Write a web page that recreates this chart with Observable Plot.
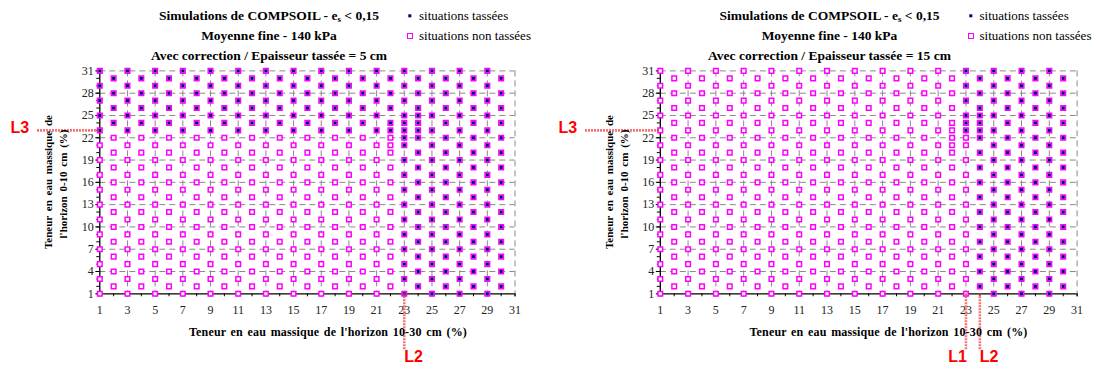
<!DOCTYPE html>
<html><head><meta charset="utf-8">
<script src="https://cdn.jsdelivr.net/npm/d3@7"></script>
<script src="https://cdn.jsdelivr.net/npm/@observablehq/plot@0.6"></script>
<style>
body{margin:0;background:#fff;}
#wrap{position:relative;width:1096px;height:374px;overflow:hidden;font-family:"Liberation Serif","Times New Roman",serif;color:#000;}
.panel{position:absolute;top:0;}
.t{position:absolute;white-space:nowrap;transform:translate(-50%,-50%);font-weight:bold;font-size:13.5px;}
.ax{position:absolute;white-space:nowrap;font-weight:bold;font-size:11px;}
.lg{position:absolute;white-space:nowrap;font-size:13px;transform:translateY(-50%);}
.mk{position:absolute;box-sizing:border-box;transform:translate(-50%,-50%);}
sub{font-size:9px;vertical-align:-2px;line-height:0;}
</style></head><body><div id="wrap"></div>
<script>
// ---- data ----
const xValues = [1,2,3,4,5,6,7,8,9,10,11,12,13,14,15,16,17,18,19,20,21,22,23,24,25,26,27,28,29,30];
const oddRows = [1,3,5,7,9,11,13,15,17,19,21,23,25,27,29,31];   // rows sampled for odd x
const evenRows = [2,4,6,8,10,12,14,16,18,20,22,24,26,28,30];    // rows sampled for even x
const extraPoints = [[22,21],[22,23],[23,22],[23,24],[24,23],[24,25]]; // refined points near the limits
// first x (10-30 cm) at which situations are "tassées", for y = 1 .. 31 (0-10 cm)
const firstTasseeX_5cm  = [23,23,23,23,23,23,23,23,23,23,23,23,23,23,23,23,23,23,23,23,23,23,1,1,1,1,1,1,1,1,1];
const firstTasseeX_15cm = [24,24,24,24,24,24,24,24,24,24,24,24,24,24,24,24,24,24,24,24,24,24,23,23,23,23,23,23,23,23,23];
const xTickLabels = [1,3,5,7,9,11,13,15,17,19,21,23,25,27,29,31];
const yTickLabels = [1,4,7,10,13,16,19,22,25,28,31];
const minorTicks = [1,2,3,4,5,6,7,8,9,10,11,12,13,14,15,16,17,18,19,20,21,22,23,24,25,26,27,28,29,30,31];
const titles5 = ["Simulations de COMPSOIL - e<sub>s</sub> &lt; 0,15", "Moyenne fine - 140 kPa", "Avec correction / Epaisseur tassée = 5 cm"];
const titles15 = ["Simulations de COMPSOIL - e<sub>s</sub> &lt; 0,15", "Moyenne fine - 140 kPa", "Avec correction / Epaisseur tassée = 15 cm"];
const legendLabels = ["situations tassées", "situations non tassées"];
const xTitle = "Teneur en eau massique de l'horizon 10-30 cm (%)";
const yTitle = ["Teneur en eau massique de", "l'horizon 0-10 cm (%)"];
const limits5  = {vertical: [{v: 23, label: "L2", anchor: "start"}], horizontal: [{v: 23, label: "L3"}]};
const limits15 = {vertical: [{v: 23, label: "L1", anchor: "end"}, {v: 24, label: "L2", anchor: "start"}], horizontal: [{v: 23, label: "L3"}]};

const W = 548, H = 374, MT = 70.4, MB = 80.7;
const MAG = "#ff00ff", NAVY = "#000080", RED = "#ff0000";

function buildPoints(firstX) {
  const pts = [];
  for (const x of xValues) for (const y of (x % 2 ? oddRows : evenRows)) pts.push({x, y});
  for (const [x, y] of extraPoints) pts.push({x, y});
  return pts.map(p => ({...p, tassee: p.x >= firstX[p.y - 1]}));
}

const wrap = document.getElementById("wrap");
function addDiv(cls, html, css) {
  const d = document.createElement("div");
  d.className = cls; d.innerHTML = html;
  Object.assign(d.style, css);
  wrap.appendChild(d);
  return d;
}

function panel(cfg) {
  const pts = buildPoints(cfg.firstX);
  const fw = W - cfg.ml - cfg.mr, fh = H - MT - MB;
  const lfont = {fill: RED, fontWeight: "bold", fontSize: 16, fontFamily: "'Liberation Sans', Arial, sans-serif"};
  const lrule = {stroke: "#f03c3c", strokeWidth: 2.6, strokeDasharray: "2,1", strokeOpacity: 0.7};
  const marks = [
    Plot.gridY(yTickLabels.slice(1), {stroke: "#8a8a8a", strokeOpacity: 1, strokeDasharray: "6,4"}),
    Plot.gridX(xTickLabels.slice(1), {stroke: "#8a8a8a", strokeOpacity: 1, strokeDasharray: "6,4"}),
    Plot.axisX(minorTicks, {tickSize: 3, tickFormat: () => "", label: null}),
    Plot.axisX(xTickLabels, {tickSize: 3, tickPadding: 9, label: null, fill: "#222", fontSize: 12}),
    Plot.axisY(minorTicks, {tickSize: 3, tickFormat: () => "", label: null}),
    Plot.axisY(yTickLabels, {tickSize: 4, tickPadding: 2, label: null, fill: "#222", fontSize: 12}),
    Plot.ruleX([1], {stroke: "#000", strokeWidth: 1.3}),
    Plot.ruleY([1], {stroke: "#000", strokeWidth: 1.3}),
    Plot.dot(pts, {x: "x", y: "y", symbol: "square", r: 2.6, fill: "white", stroke: MAG, strokeWidth: 1.5}),
    Plot.dot(pts.filter(d => d.tassee), {x: "x", y: "y", symbol: "square", r: 1.75, fill: NAVY}),
    Plot.ruleX(cfg.limits.vertical, {x: "v", ...lrule, insetTop: fh, insetBottom: -57}),
    Plot.ruleY(cfg.limits.horizontal, {y: "v", ...lrule, insetLeft: -(cfg.ml - 37), insetRight: fw}),
    Plot.text(cfg.limits.horizontal, {y: "v", text: "label", frameAnchor: "left", textAnchor: "start", dx: -(cfg.ml - 10), dy: -2, ...lfont})
  ];
  for (const anchor of ["start", "end"]) {
    const sel = cfg.limits.vertical.filter(d => d.anchor === anchor);
    if (sel.length) marks.push(Plot.text(sel, {x: "v", text: "label", frameAnchor: "bottom", textAnchor: anchor, dx: anchor === "start" ? 0 : 1, dy: 68, ...lfont}));
  }
  const svg = Plot.plot({
    width: W, height: H,
    marginLeft: cfg.ml, marginRight: cfg.mr, marginTop: MT, marginBottom: MB,
    x: {type: "linear", domain: [1, 31]},
    y: {type: "linear", domain: [1, 31]},
    style: {fontFamily: "'Liberation Serif', 'Times New Roman', serif", fontSize: "12px", background: "transparent", overflow: "visible"},
    marks
  });
  svg.classList.add("panel");
  svg.style.left = cfg.left + "px";
  wrap.appendChild(svg);

  const o = cfg.textOffset;
  cfg.titles.forEach((t, i) => addDiv("t", t, {left: (269 + o) + "px", top: [16, 36, 55.5][i] + "px"}));
  // legend
  addDiv("mk", "", {left: (410 + o) + "px", top: "16px", width: "3.4px", height: "3.4px", background: NAVY});
  addDiv("mk", "", {left: (410 + o) + "px", top: "36px", width: "6px", height: "6px", border: "1.4px solid " + MAG, background: "#fff"});
  addDiv("lg", legendLabels[0], {left: (419 + o) + "px", top: "16px"});
  addDiv("lg", legendLabels[1], {left: (419 + o) + "px", top: "36px"});
  // axis titles
  addDiv("ax", xTitle, {left: (328 + o) + "px", top: "332px", transform: "translate(-50%,-50%)", fontSize: "12px", wordSpacing: "1.5px", letterSpacing: "0.15px"});
  addDiv("ax", yTitle[0], {left: (48 + o) + "px", top: "182px", transform: "translate(-50%,-50%) rotate(-90deg)", wordSpacing: "2px"});
  addDiv("ax", yTitle[1], {left: (63 + o) + "px", top: "184px", transform: "translate(-50%,-50%) rotate(-90deg)", wordSpacing: "2px"});
}

panel({left: 0, ml: 99.3, mr: 33.5, firstX: firstTasseeX_5cm, titles: titles5, limits: limits5, textOffset: 0});
panel({left: 548, ml: 111.8, mr: 19.4, firstX: firstTasseeX_15cm, titles: titles15, limits: limits15, textOffset: 560.5});
</script>
</body></html>
